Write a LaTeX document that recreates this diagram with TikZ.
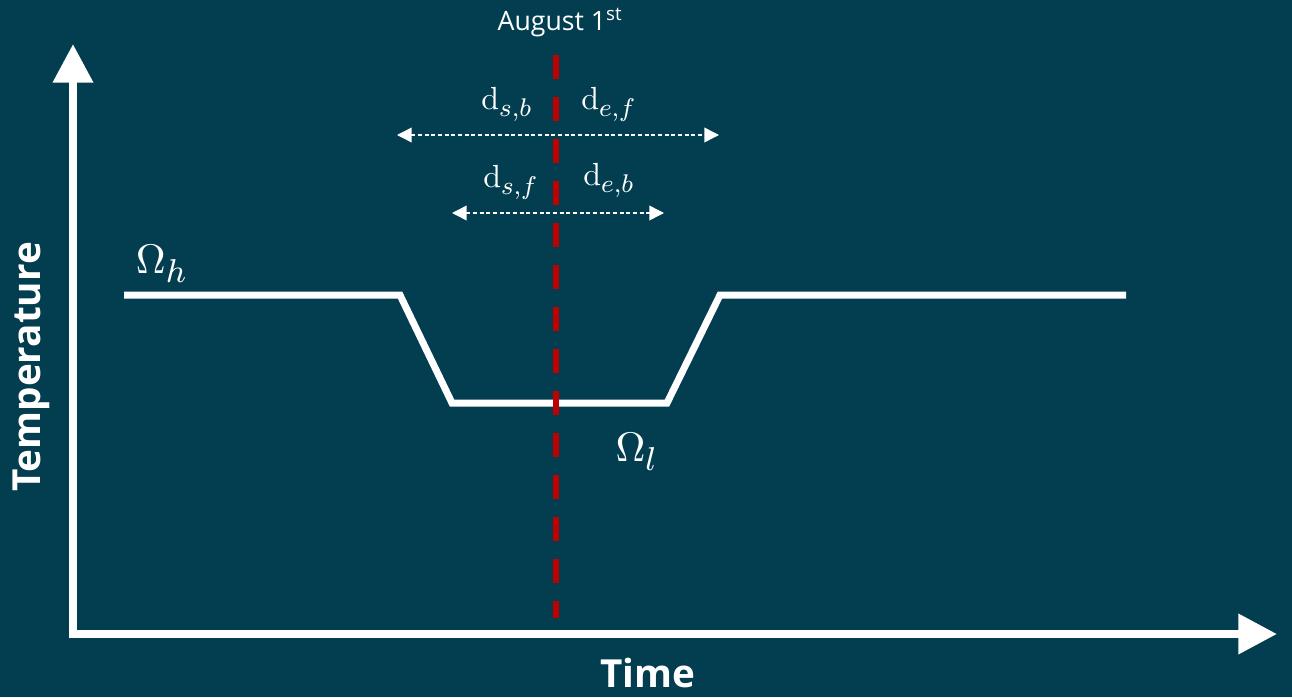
\documentclass[tikz,border=0pt]{standalone}
\usepackage[no-math]{fontspec}
\setmainfont{Open Sans}
\DeclareMathSizes{10}{10}{8}{6}
\usetikzlibrary{arrows.meta}
\definecolor{bg}{RGB}{2,62,80}
\definecolor{redline}{RGB}{192,0,0}
\tikzset{
  axis/.style={draw=white, line width=6pt, line join=miter, {Triangle[length=29pt,width=29pt]}-{Triangle[length=29pt,width=29pt]}},
  curve/.style={draw=white, line width=5.25pt, line join=miter},
  aug/.style={draw=redline, line width=5pt, dash pattern=on 18pt off 13.5pt},
  span/.style={draw=white, line width=1.1pt, dash pattern=on 3pt off 2pt, {Triangle[length=11pt,width=11pt]}-{Triangle[length=11pt,width=11pt]}},
  lbl/.style={text=white, inner sep=0pt, font=\normalsize, scale=2.4},
  omega/.style={text=white, inner sep=0pt, font=\normalsize, scale=3.1},
  axlbl/.style={text=white, inner sep=0pt, font=\fontsize{29}{33}\selectfont\bfseries},
  date/.style={text=white, inner sep=0pt, font=\fontsize{20}{24}\selectfont}
}
\begin{document}
\begin{tikzpicture}[x=0.75pt,y=-0.75pt]
\fill[bg] (0,0) rectangle (1292,697);
\useasboundingbox (0,0) rectangle (1292,697);
% axes
\coordinate (ytip) at (73,44);
\coordinate (origin) at (73,634);
\coordinate (xtip) at (1277,634);
\draw[axis] (ytip) -- (origin) -- (xtip);
% temperature curve
\coordinate (c1) at (124,295);
\coordinate (c2) at (400,295);
\coordinate (c3) at (452,403);
\coordinate (c4) at (667,403);
\coordinate (c5) at (720,295);
\coordinate (c6) at (1126,295);
\draw[curve] (c1) -- (c2) -- (c3) -- (c4) -- (c5) -- (c6);
% span arrows
\coordinate (a1) at (397,135);
\coordinate (a2) at (719,135);
\coordinate (b1) at (452,213);
\coordinate (b2) at (664,213);
\draw[span] (a1) -- (a2);
\draw[span] (b1) -- (b2);
% August 1st line
\coordinate (rtop) at (556,55);
\coordinate (rbot) at (556,618);
\draw[aug] (rtop) -- (rbot);
% labels
\node[date] (date) at (560,23) {August 1\textsuperscript{st}};
\node[lbl] (dsb) at (507,104) {$\mathrm{d}_{s,b}$};
\node[lbl] (def) at (609,104) {$\mathrm{d}_{e,f}$};
\node[lbl] (dsf) at (511,182) {$\mathrm{d}_{s,f}$};
\node[lbl] (deb) at (609,180) {$\mathrm{d}_{e,b}$};
\node[omega] (oh) at (162,264) {$\Omega_h$};
\node[omega] (ol) at (637,452) {$\Omega_l$};
\node[axlbl, rotate=90] (temp) at (31,367) {Temperature};
\node[axlbl, anchor=base] (time) at (648,687) {Time};
\end{tikzpicture}
\end{document}
